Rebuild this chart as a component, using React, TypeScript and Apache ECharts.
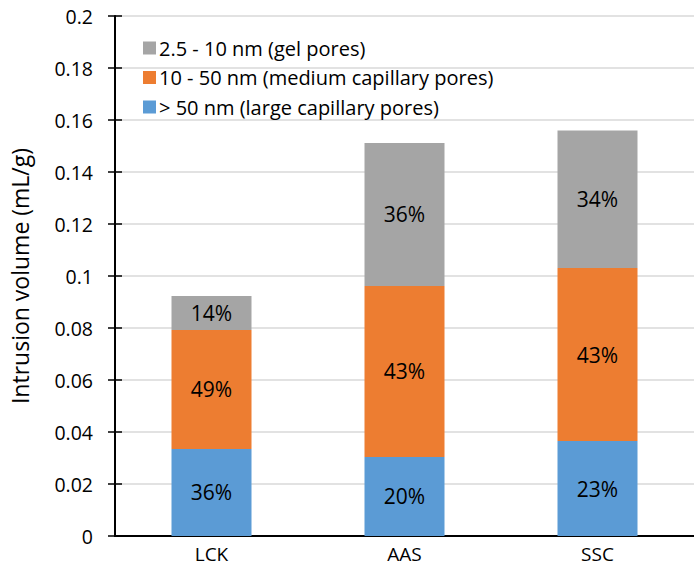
import React, { useEffect, useRef } from "react";
import * as echarts from "echarts";

const categories = ["LCK", "AAS", "SSC"];
const largeValues = [0.0335, 0.0304, 0.0365];
const mediumValues = [0.0457, 0.0658, 0.0666];
const gelValues = [0.0131, 0.055, 0.0529];
const largeLabels = ["36%", "20%", "23%"];
const mediumLabels = ["49%", "43%", "43%"];
const gelLabels = ["14%", "36%", "34%"];
const seriesNames = [
  "> 50 nm (large capillary pores)",
  "10 - 50 nm (medium capillary pores)",
  "2.5 - 10 nm (gel pores)",
];

const FONT = "Open Sans";

export default function App() {
  const ref = useRef<HTMLDivElement>(null);
  useEffect(() => {
    if (!ref.current) return;
    const chart = echarts.init(ref.current, undefined, { renderer: "svg" });
    const mkSeries = (name: string, data: number[], labels: string[], color: string) => ({
      name,
      type: "bar",
      stack: "total",
      data,
      barWidth: 80,
      itemStyle: { color },
      label: {
        show: true,
        position: "inside",
        formatter: (p: any) => labels[p.dataIndex],
        color: "#000",
        fontFamily: FONT,
        fontSize: 21,
      },
    });
    chart.setOption({
      animation: false,
      backgroundColor: "#fff",
      grid: { left: 114, top: 16, right: -8, bottom: 43 },
      legend: {
        orient: "vertical",
        left: 138,
        top: 33,
        itemWidth: 13,
        itemHeight: 13,
        itemGap: 9.5,
        icon: "rect",
        data: [seriesNames[2], seriesNames[1], seriesNames[0]],
        textStyle: { fontFamily: FONT, fontSize: 20, color: "#000", lineHeight: 20, padding: [0, 0, 0, -2] },
      },
      xAxis: [
        {
          type: "category",
          data: categories,
          axisLine: { lineStyle: { color: "#000", width: 2 } },
          axisTick: { show: false },
          axisLabel: { fontFamily: FONT, fontSize: 19, color: "#000", margin: 8 },
        },
        {
          type: "category",
          position: "top",
          data: categories,
          axisLine: { lineStyle: { color: "#000", width: 2 } },
          axisTick: { show: false },
          axisLabel: { show: false },
        },
      ],
      yAxis: [
        {
          type: "value",
          min: 0,
          max: 0.2,
          interval: 0.02,
          name: "Intrusion volume (mL/g)",
          nameLocation: "middle",
          nameGap: 84,
          nameTextStyle: { fontFamily: FONT, fontSize: 23, color: "#000" },
          axisLine: { show: true, lineStyle: { color: "#000", width: 2 } },
          axisTick: { show: true, length: 7, lineStyle: { color: "#000", width: 1.5 } },
          axisLabel: {
            fontFamily: FONT,
            fontSize: 19.5,
            color: "#000",
            margin: 22,
            formatter: (v: number) => String(parseFloat(v.toFixed(2))),
          },
          splitLine: { lineStyle: { color: "#d9d9d9", width: 1.5 } },
        },
        {
          type: "value",
          min: 0,
          max: 0.2,
          interval: 0.02,
          position: "left",
          axisLine: { show: false },
          axisTick: { show: true, inside: true, length: 7, lineStyle: { color: "#000", width: 1.5 } },
          axisLabel: { show: false },
          splitLine: { show: false },
        },
      ],
      series: [
        mkSeries(seriesNames[0], largeValues, largeLabels, "#5B9BD5"),
        mkSeries(seriesNames[1], mediumValues, mediumLabels, "#ED7D31"),
        mkSeries(seriesNames[2], gelValues, gelLabels, "#A5A5A5"),
      ],
    });
    return () => chart.dispose();
  }, []);
  return (
    <div
      ref={ref}
      style={{ position: "fixed", left: 0, top: 0, width: 694, height: 579 }}
    />
  );
}
